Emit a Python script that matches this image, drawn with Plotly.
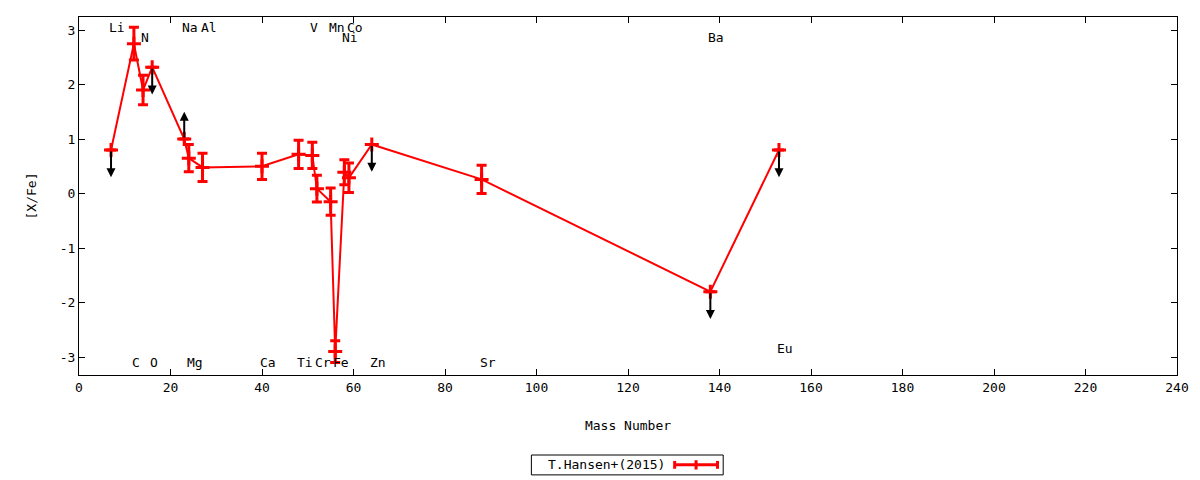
import plotly.graph_objects as go

# ---- data ----
elements = ["Li", "C", "N", "O", "Na", "Mg", "Al", "Ca", "Ti", "V", "Cr", "Mn", "Fe", "Ni", "Co", "Zn", "Sr", "Ba", "Eu"]
mass = [7, 12, 14, 16, 23, 24, 27, 40, 48, 51, 52, 55, 56, 58, 59, 64, 88, 138, 153]
xfe = [0.80, 2.75, 1.90, 2.32, 1.00, 0.65, 0.48, 0.50, 0.72, 0.70, 0.09, -0.15, -2.90, 0.39, 0.29, 0.90, 0.26, -1.80, 0.80]
err = [0.0, 0.30, 0.27, 0.0, 0.0, 0.25, 0.26, 0.24, 0.26, 0.24, 0.245, 0.25, 0.20, 0.23, 0.27, 0.0, 0.26, 0.0, 0.0]
# limit flags: -1 upper limit (arrow down), +1 lower limit (arrow up), 0 measurement
limit = [-1, 0, 0, -1, 1, 0, 0, 0, 0, 0, 0, 0, 0, 0, 0, -1, 0, -1, -1]

# element label rows (data y positions)
label_el = ["Li", "C", "N", "O", "Na", "Mg", "Al", "Ca", "Ti", "V", "Cr", "Mn", "Fe", "Co", "Ni", "Zn", "Sr", "Ba", "Eu"]
label_x = [7, 12, 14, 16, 23, 24, 27, 40, 48, 51, 52, 55, 56, 59, 58, 64, 88, 138, 153]
label_y = [3.04, -3.10, 2.86, -3.10, 3.04, -3.10, 3.04, -3.10, -3.10, 3.04, -3.10, 3.04, -3.10, 3.04, 2.86, -3.10, -3.10, 2.86, -2.85]

x_ticks = [0, 20, 40, 60, 80, 100, 120, 140, 160, 180, 200, 220, 240]
y_ticks = [-3, -2, -1, 0, 1, 2, 3]

legend_name = "T.Hansen+(2015)"
arrow_len = 0.5

FONT = "DejaVu Sans Mono"
FS = 13
RED = "#ff0000"

fig = go.Figure()
fig.add_trace(go.Scatter(
    x=mass, y=xfe,
    mode="lines+markers",
    name=legend_name,
    line=dict(color=RED, width=2),
    marker=dict(symbol="cross-thin", size=10, color=RED, line=dict(color=RED, width=3)),
    error_y=dict(type="data", array=[e if e > 0 else None for e in err], visible=True,
                 color=RED, thickness=3, width=5),
    showlegend=False,
))

annotations = []
# limit arrows
for m, v, l in zip(mass, xfe, limit):
    if l == 0:
        continue
    annotations.append(dict(
        x=m, y=v + l * arrow_len, ax=m, ay=v,
        xref="x", yref="y", axref="x", ayref="y",
        text="", showarrow=True, arrowhead=2, arrowsize=0.9, arrowwidth=2,
        arrowcolor="black", standoff=0, startstandoff=0,
    ))
# element labels
for t, lx, ly in zip(label_el, label_x, label_y):
    annotations.append(dict(
        x=lx, y=ly, xref="x", yref="y", text=t, showarrow=False,
        xanchor="left", yanchor="middle", xshift=-4,
        font=dict(family=FONT, size=FS, color="black"),
    ))

# custom legend (gnuplot-style: text then sample on the right)
annotations.append(dict(
    x=0.5357, y=-0.251, xref="paper", yref="paper", text=legend_name,
    showarrow=False, xanchor="right", yanchor="middle",
    font=dict(family=FONT, size=FS, color="black"),
))
shapes = [
    dict(type="rect", xref="paper", yref="paper", x0=0.412, x1=0.5867, y0=-0.279, y1=-0.2235,
         line=dict(color="black", width=1), fillcolor="white"),
    dict(type="line", xref="paper", yref="paper", x0=0.5425, x1=0.5815, y0=-0.251, y1=-0.251,
         line=dict(color=RED, width=3)),
    dict(type="line", xref="paper", yref="paper", x0=0.5425, x1=0.5425, y0=-0.262, y1=-0.240,
         line=dict(color=RED, width=3)),
    dict(type="line", xref="paper", yref="paper", x0=0.5815, x1=0.5815, y0=-0.262, y1=-0.240,
         line=dict(color=RED, width=3)),
    dict(type="line", xref="paper", yref="paper", x0=0.562, x1=0.562, y0=-0.264, y1=-0.238,
         line=dict(color=RED, width=3)),
]

axis_common = dict(
    showline=True, linecolor="black", linewidth=1, mirror="ticks",
    ticks="inside", ticklen=6, tickcolor="black", tickwidth=1,
    showgrid=False, zeroline=False,
    tickfont=dict(family=FONT, size=FS, color="black"),
)

fig.update_layout(
    width=1200, height=480,
    margin=dict(l=79, r=23, t=17, b=105),
    paper_bgcolor="white", plot_bgcolor="white",
    font=dict(family=FONT, size=FS, color="black"),
    annotations=annotations,
    shapes=shapes,
    xaxis=dict(range=[0, 240], tickmode="array", tickvals=x_ticks,
               ticktext=[str(v) for v in x_ticks],
               title=dict(text="Mass Number", font=dict(family=FONT, size=FS), standoff=27),
               **axis_common),
    yaxis=dict(range=[-3.33, 3.24], tickmode="array", tickvals=y_ticks,
               ticktext=[str(v) for v in y_ticks],
               title=dict(text="[X/Fe]", font=dict(family=FONT, size=FS), standoff=20),
               **axis_common),
)

fig.write_html("out.html", config={"displayModeBar": False},
               post_script="document.body.style.margin='0';document.body.style.padding='0';")
